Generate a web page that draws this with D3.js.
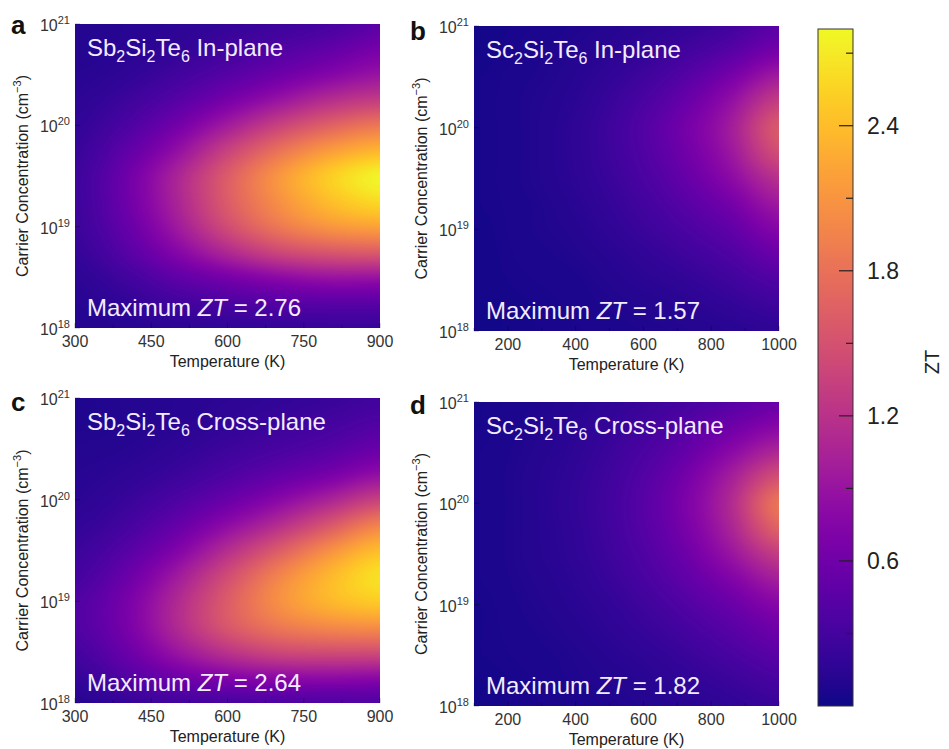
<!DOCTYPE html>
<html><head><meta charset="utf-8">
<script src="https://cdn.jsdelivr.net/npm/d3@7"></script>
<style>body{margin:0;background:#fff;} svg{display:block;font-family:"Liberation Sans",Arial,sans-serif;}</style>
</head><body><svg id="chart" width="949" height="749"></svg>
<script>
// ---------------- data ----------------
// log10 of carrier concentration (rows, top to bottom)
const logN = [21, 20.75, 20.5, 20.25, 20, 19.75, 19.5, 19.25, 19, 18.75, 18.5, 18.25, 18];
const tempSb = [300, 400, 500, 600, 700, 800, 900];
const tempSc = [100, 250, 400, 550, 700, 850, 1000];
const tempTicksSb = [300, 450, 600, 750, 900];
const tempTicksSc = [200, 400, 600, 800, 1000];
const concTicks = [1e18, 1e19, 1e20, 1e21];
const cbarTicks = [0.6, 1.2, 1.8, 2.4];
const cbarMinor = [0.3, 0.9, 1.5, 2.1, 2.7];
const ztDomain = [0, 2.8];

const ztSbIn = [
  [0.10, 0.12, 0.15, 0.20, 0.25, 0.32, 0.45],
  [0.10, 0.13, 0.18, 0.28, 0.38, 0.50, 0.65],
  [0.12, 0.17, 0.28, 0.42, 0.58, 0.75, 0.90],
  [0.15, 0.25, 0.42, 0.65, 0.90, 1.15, 1.30],
  [0.18, 0.35, 0.62, 0.98, 1.35, 1.65, 1.85],
  [0.22, 0.48, 0.85, 1.35, 1.80, 2.15, 2.35],
  [0.25, 0.58, 1.05, 1.60, 2.10, 2.50, 2.76],
  [0.25, 0.58, 1.05, 1.60, 2.05, 2.40, 2.60],
  [0.24, 0.52, 0.95, 1.45, 1.85, 2.10, 2.20],
  [0.20, 0.42, 0.75, 1.10, 1.40, 1.55, 1.60],
  [0.15, 0.28, 0.48, 0.65, 0.80, 0.90, 0.90],
  [0.12, 0.18, 0.28, 0.35, 0.42, 0.45, 0.45],
  [0.10, 0.12, 0.15, 0.18, 0.20, 0.22, 0.22]
];
const ztScIn = [
  [0.03, 0.05, 0.08, 0.12, 0.18, 0.28, 0.45],
  [0.03, 0.06, 0.10, 0.16, 0.26, 0.42, 0.65],
  [0.04, 0.07, 0.12, 0.22, 0.38, 0.64, 0.98],
  [0.04, 0.08, 0.14, 0.28, 0.50, 0.84, 1.32],
  [0.04, 0.08, 0.16, 0.32, 0.58, 0.95, 1.57],
  [0.04, 0.08, 0.16, 0.31, 0.55, 0.90, 1.45],
  [0.04, 0.08, 0.15, 0.28, 0.48, 0.78, 1.18],
  [0.04, 0.07, 0.13, 0.24, 0.40, 0.62, 0.95],
  [0.03, 0.07, 0.11, 0.20, 0.32, 0.48, 0.75],
  [0.03, 0.06, 0.09, 0.15, 0.24, 0.36, 0.55],
  [0.03, 0.05, 0.07, 0.12, 0.17, 0.26, 0.38],
  [0.03, 0.04, 0.06, 0.09, 0.12, 0.18, 0.25],
  [0.02, 0.04, 0.05, 0.07, 0.09, 0.12, 0.16]
];
const ztSbCross = [
  [0.08, 0.10, 0.12, 0.15, 0.18, 0.22, 0.28],
  [0.08, 0.10, 0.13, 0.18, 0.24, 0.30, 0.38],
  [0.10, 0.12, 0.17, 0.25, 0.33, 0.42, 0.55],
  [0.12, 0.16, 0.24, 0.36, 0.50, 0.65, 0.85],
  [0.14, 0.22, 0.36, 0.55, 0.78, 1.05, 1.35],
  [0.18, 0.30, 0.52, 0.82, 1.15, 1.55, 1.95],
  [0.24, 0.42, 0.72, 1.15, 1.60, 2.05, 2.40],
  [0.30, 0.55, 0.95, 1.45, 1.95, 2.35, 2.64],
  [0.38, 0.65, 1.10, 1.60, 2.05, 2.35, 2.50],
  [0.38, 0.65, 1.10, 1.55, 1.85, 2.00, 2.05],
  [0.30, 0.55, 0.90, 1.20, 1.40, 1.45, 1.45],
  [0.20, 0.38, 0.58, 0.72, 0.80, 0.82, 0.80],
  [0.12, 0.20, 0.28, 0.33, 0.36, 0.38, 0.38]
];
const ztScCross = [
  [0.04, 0.07, 0.12, 0.20, 0.30, 0.42, 0.55],
  [0.04, 0.08, 0.14, 0.24, 0.38, 0.58, 0.78],
  [0.05, 0.09, 0.16, 0.29, 0.48, 0.78, 1.10],
  [0.05, 0.10, 0.18, 0.33, 0.58, 0.98, 1.50],
  [0.05, 0.10, 0.19, 0.35, 0.63, 1.08, 1.82],
  [0.05, 0.10, 0.18, 0.34, 0.60, 1.02, 1.65],
  [0.05, 0.10, 0.17, 0.31, 0.53, 0.88, 1.30],
  [0.05, 0.09, 0.15, 0.27, 0.45, 0.70, 1.00],
  [0.04, 0.08, 0.13, 0.22, 0.36, 0.54, 0.76],
  [0.04, 0.07, 0.11, 0.18, 0.28, 0.42, 0.58],
  [0.04, 0.06, 0.09, 0.14, 0.21, 0.32, 0.44],
  [0.03, 0.05, 0.08, 0.11, 0.16, 0.23, 0.32],
  [0.03, 0.05, 0.06, 0.09, 0.12, 0.17, 0.22]
];
const materials = ["Sb", "Sc", "Sb", "Sc"];
const directions = ["In-plane", "In-plane", "Cross-plane", "Cross-plane"];
const maxZT = ["2.76", "1.57", "2.64", "1.82"];
const letters = ["a", "b", "c", "d"];

// ---------------- layout ----------------
const layout = [
  {l: 75,  r: 380, t: 24,  b: 328, letterY: 34},
  {l: 474, r: 779, t: 26,  b: 331, letterY: 40},
  {l: 75,  r: 380, t: 398, b: 703, letterY: 411},
  {l: 474, r: 779, t: 402, b: 706, letterY: 414}
];
const panels = [
  {temps: tempSb, ticks: tempTicksSb, vals: ztSbIn},
  {temps: tempSc, ticks: tempTicksSc, vals: ztScIn},
  {temps: tempSb, ticks: tempTicksSb, vals: ztSbCross},
  {temps: tempSc, ticks: tempTicksSc, vals: ztScCross}
];

const svg = d3.select("#chart");
svg.append("rect").attr("width", 949).attr("height", 749).attr("fill", "#fff");
const color = d3.scaleSequential(d3.interpolatePlasma).domain(ztDomain).clamp(true);

// colour lookup table
const LUT = d3.range(1024).map(i => d3.rgb(color(ztDomain[0] + (ztDomain[1]-ztDomain[0]) * i / 1023)));

function cr(p0, p1, p2, p3, t) {
  return 0.5 * ((2*p1) + (-p0 + p2)*t + (2*p0 - 5*p1 + 4*p2 - p3)*t*t + (-p0 + 3*p1 - 3*p2 + p3)*t*t*t);
}

panels.forEach((p, k) => {
  const L = layout[k];
  const x = d3.scaleLinear().domain(d3.extent(p.temps)).range([L.l, L.r]);
  const y = d3.scaleLog().domain([1e18, 1e21]).range([L.b, L.t]);
  const g = svg.append("g");

  // heat map image
  const w = L.r - L.l, h = L.b - L.t;
  const canvas = document.createElement("canvas");
  canvas.width = w; canvas.height = h;
  const ctx = canvas.getContext("2d");
  const img = ctx.createImageData(w, h);
  const tIdx = d3.scaleLinear().domain(p.temps).range(d3.range(p.temps.length)).clamp(true);
  const nIdx = d3.scaleLinear().domain(logN).range(d3.range(logN.length)).clamp(true);
  const nc = p.temps.length, nr = logN.length;
  const V = (r, c) => p.vals[Math.max(0, Math.min(nr-1, r))][Math.max(0, Math.min(nc-1, c))];
  for (let py = 0; py < h; py++) {
    const ln = Math.log10(y.invert(L.t + py + 0.5));
    const fr = nIdx(ln);
    const r0 = Math.min(nr - 2, Math.floor(fr)), ty = fr - r0;
    for (let px = 0; px < w; px++) {
      const T = x.invert(L.l + px + 0.5);
      const fc = tIdx(T);
      const c0 = Math.min(nc - 2, Math.floor(fc)), tx = fc - c0;
      const rows = [-1, 0, 1, 2].map(dr => cr(V(r0+dr, c0-1), V(r0+dr, c0), V(r0+dr, c0+1), V(r0+dr, c0+2), tx));
      let v = cr(rows[0], rows[1], rows[2], rows[3], ty);
      let li = Math.round((v - ztDomain[0]) / (ztDomain[1]-ztDomain[0]) * 1023);
      li = Math.max(0, Math.min(1023, li));
      const c = LUT[li];
      const o = (py * w + px) * 4;
      img.data[o] = c.r; img.data[o+1] = c.g; img.data[o+2] = c.b; img.data[o+3] = 255;
    }
  }
  ctx.putImageData(img, 0, 0);
  g.append("image").attr("href", canvas.toDataURL())
    .attr("x", x.range()[0]).attr("y", y.range()[1])
    .attr("width", w).attr("height", h)
    .attr("preserveAspectRatio", "none");

  // inward ticks
  const minorT = d3.range(p.temps[0], p.temps[p.temps.length-1] + 1, (p.ticks[1]-p.ticks[0]) / 2);
  g.selectAll(".xt").data(minorT).join("line")
    .attr("x1", d => x(d)).attr("x2", d => x(d))
    .attr("y1", L.b).attr("y2", d => L.b - (p.ticks.includes(d) ? 5 : 3))
    .attr("stroke", "#000").attr("stroke-opacity", 0.3);
  g.selectAll(".yt").data(concTicks).join("line")
    .attr("x1", L.l).attr("x2", L.l + 5)
    .attr("y1", d => y(d)).attr("y2", d => y(d))
    .attr("stroke", "#000").attr("stroke-opacity", 0.3);

  // x tick labels
  g.selectAll(".xl").data(p.ticks).join("text")
    .attr("x", d => x(d)).attr("y", L.b + 19)
    .attr("text-anchor", "middle").attr("font-size", 16).attr("fill", "#333")
    .text(d => d);
  // y tick labels
  const yl = g.selectAll(".yl").data(concTicks).join("text")
    .attr("x", L.l - 5).attr("y", d => y(d) + 7)
    .attr("text-anchor", "end").attr("font-size", 16).attr("fill", "#333");
  yl.append("tspan").text("10");
  yl.append("tspan").attr("font-size", 11).attr("dy", -7).text(d => Math.round(Math.log10(d)));

  // axis titles
  g.append("text").attr("x", (L.l + L.r) / 2).attr("y", L.b + 39)
    .attr("text-anchor", "middle").attr("font-size", 16).attr("fill", "#222")
    .text("Temperature (K)");
  const yt = g.append("text")
    .attr("transform", `translate(${L.l - 47},${(L.t + L.b) / 2}) rotate(-90)`)
    .attr("text-anchor", "middle").attr("font-size", 16).attr("fill", "#222");
  yt.append("tspan").text("Carrier Concentration (cm");
  yt.append("tspan").attr("font-size", 11).attr("dy", -7).text("\u22123");
  yt.append("tspan").attr("dy", 7).text(")");

  // panel letter
  g.append("text").attr("x", L.l - 64).attr("y", L.letterY)
    .attr("font-size", 26).attr("font-weight", "bold").attr("fill", "#111")
    .text(letters[k]);

  // in-plot title
  const tt = g.append("text").attr("x", L.l + 12).attr("y", L.t + 32)
    .attr("font-size", 24).attr("fill", "#f3ecff");
  tt.append("tspan").text(materials[k]);
  tt.append("tspan").attr("font-size", 16).attr("dy", 6).text("2");
  tt.append("tspan").attr("dy", -6).text("Si");
  tt.append("tspan").attr("font-size", 16).attr("dy", 6).text("2");
  tt.append("tspan").attr("dy", -6).text("Te");
  tt.append("tspan").attr("font-size", 16).attr("dy", 6).text("6");
  tt.append("tspan").attr("dy", -6).text(" " + directions[k]);

  // maximum ZT
  const mt = g.append("text").attr("x", L.l + 12).attr("y", L.b - 12)
    .attr("font-size", 24).attr("fill", "#f3ecff");
  mt.append("tspan").text("Maximum ");
  mt.append("tspan").attr("font-style", "italic").text("ZT");
  mt.append("tspan").text(" = " + maxZT[k]);
});

// ---------------- colour bar ----------------
const cb = {l: 818, r: 853, t: 29, b: 706};
const cy = d3.scaleLinear().domain(ztDomain).range([cb.b, cb.t]);
const grad = svg.append("defs").append("linearGradient").attr("id", "cbgrad")
  .attr("x1", 0).attr("y1", 1).attr("x2", 0).attr("y2", 0);
grad.selectAll("stop").data(d3.range(0, 1.0001, 0.02)).join("stop")
  .attr("offset", d => d).attr("stop-color", d => d3.interpolatePlasma(d));
svg.append("rect").attr("x", cb.l).attr("y", cb.t).attr("width", cb.r - cb.l).attr("height", cb.b - cb.t)
  .attr("fill", "url(#cbgrad)").attr("stroke", "#333").attr("stroke-width", 1);
svg.selectAll(".cbt").data(cbarTicks).join("line")
  .attr("x1", cb.r - 14).attr("x2", cb.r).attr("y1", d => cy(d)).attr("y2", d => cy(d))
  .attr("stroke", "#222").attr("stroke-width", 1.2);
svg.selectAll(".cbm").data(cbarMinor).join("line")
  .attr("x1", cb.r - 7).attr("x2", cb.r).attr("y1", d => cy(d)).attr("y2", d => cy(d))
  .attr("stroke", "#222").attr("stroke-width", 1.2);
svg.selectAll(".cbl").data(cbarTicks).join("text")
  .attr("x", cb.r + 14).attr("y", d => cy(d) + 8)
  .attr("font-size", 23).attr("fill", "#222").text(d => d.toFixed(1));
svg.append("text").attr("transform", "translate(939,362) rotate(-90)")
  .attr("text-anchor", "middle").attr("font-size", 20).attr("fill", "#222").text("ZT");
</script></body></html>
